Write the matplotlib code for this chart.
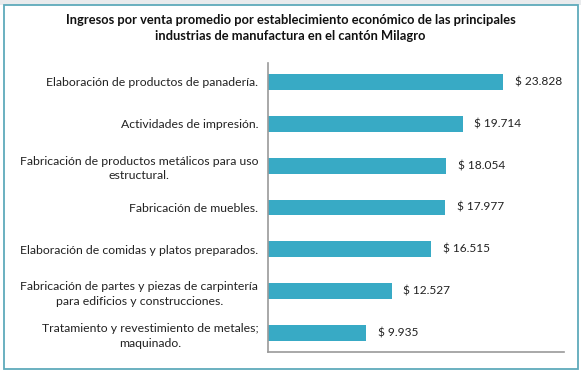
import matplotlib.pyplot as plt
from matplotlib.patches import Rectangle

plt.rcParams['font.family'] = ['Lato', 'DejaVu Sans']

categories = [
    'Elaboración de productos de panadería.',
    'Actividades de impresión.',
    'Fabricación de productos metálicos para uso\nestructural.',
    'Fabricación de muebles.',
    'Elaboración de comidas y platos preparados.',
    'Fabricación de partes y piezas de carpintería\npara edificios y construcciones.',
    'Tratamiento y revestimiento de metales;\nmaquinado.',
]
values = [23828, 19714, 18054, 17977, 16515, 12527, 9935]
value_labels = ['$ 23.828', '$ 19.714', '$ 18.054', '$ 17.977', '$ 16.515', '$ 12.527', '$ 9.935']
title = ('Ingresos por venta promedio por establecimiento económico de las principales\n'
         'industrias de manufactura en el cantón Milagro')

bar_color = '#38aac5'


def show_chart():
    fig = plt.figure(figsize=(5.81, 3.73), dpi=100)
    fig.patch.set_facecolor('white')

    # light gray strip on top and the teal frame
    fig.patches.append(Rectangle((0, 1 - 5 / 373), 1, 5 / 373, transform=fig.transFigure,
                                 facecolor='#e9ebed', edgecolor='none', zorder=0))
    fig.patches.append(Rectangle((3.5 / 581, 1 - 369 / 373), 574 / 581, 364 / 373,
                                 transform=fig.transFigure, facecolor='none',
                                 edgecolor='#5eaabb', linewidth=1.3, zorder=1))

    ax = fig.add_axes([268 / 581, 1 - 352 / 373, 296 / 581, 289 / 373])
    y = list(range(len(categories)))
    ax.barh(y, values, height=0.38, color=bar_color, zorder=2)
    ax.set_ylim(len(categories) - 0.55, -0.45)
    ax.set_xlim(0, 30000)

    for yi, v, lab in zip(y, values, value_labels):
        ax.text(v + 1200, yi, lab, va='center', ha='left', fontsize=8.6, color='#222222')

    ax.set_yticks(y)
    ax.set_yticklabels(categories, fontsize=8.8, color='#222222', ha='right',
                       multialignment='center', linespacing=1.4)
    ax.tick_params(axis='y', length=0, pad=7)
    ax.set_xticks([])
    for s in ['top', 'right']:
        ax.spines[s].set_visible(False)
    ax.spines['left'].set_color('#9a9a9a')
    ax.spines['bottom'].set_color('#9a9a9a')
    ax.spines['left'].set_linewidth(1.2)
    ax.spines['bottom'].set_linewidth(1.2)

    fig.text(0.5, 1 - 28 / 373, title, ha='center', va='center', fontsize=9.3,
             fontweight='bold', color='#111111', linespacing=1.45)

    fig.savefig('out.png', dpi=100)


if __name__ == '__main__':
    show_chart()
